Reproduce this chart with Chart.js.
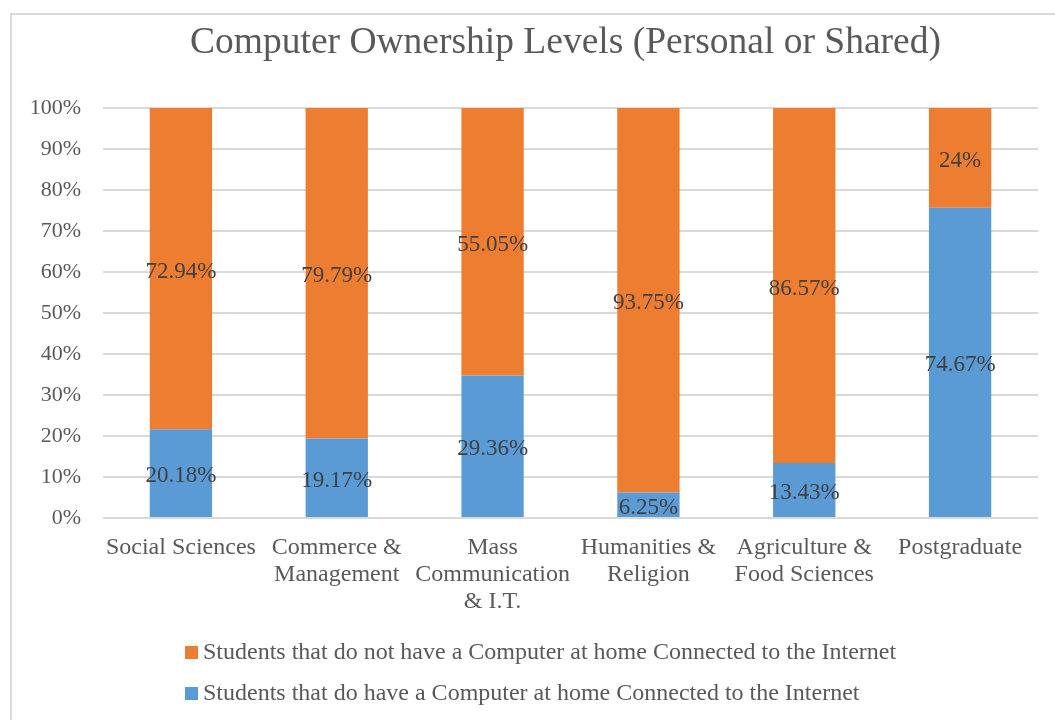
<!DOCTYPE html>
<html lang="en">
<head>
    <meta charset="UTF-8">
    <title>Computer Ownership Levels</title>
    <style>
        body { margin: 0; background: #fff; }
        canvas { display: block; }
    </style>
</head>
<body>
    <canvas id="myChart" width="1055" height="720"></canvas>

    <script src="https://cdn.jsdelivr.net/npm/chart.js@4.4.1/dist/chart.umd.min.js"></script>
    <script type="text/javascript">
        // categories (multi-line labels as in the original)
        const categories = [
            ['Social Sciences'],
            ['Commerce &', 'Management'],
            ['Mass', 'Communication', '& I.T.'],
            ['Humanities &', 'Religion'],
            ['Agriculture &', 'Food Sciences'],
            ['Postgraduate']
        ];
        const haveComputer = [20.18, 19.17, 29.36, 6.25, 13.43, 74.67];
        const noComputer = [72.94, 79.79, 55.05, 93.75, 86.57, 24];
        const seriesNames = [
            'Students that do have a Computer at home Connected to the Internet',
            'Students that do not have a Computer at home Connected to the Internet'
        ];
        const yTicks = [0, 10, 20, 30, 40, 50, 60, 70, 80, 90, 100];
        const chartTitle = 'Computer Ownership Levels (Personal or Shared)';

        const BLUE = '#5B9BD5';
        const ORANGE = '#ED7D31';
        const FONT = '"Liberation Serif", "Times New Roman", serif';

        // 100% stacked: share of each category total
        const totals = haveComputer.map((v, i) => v + noComputer[i]);
        const havePct = haveComputer.map((v, i) => v / totals[i] * 100);
        const noPct = noComputer.map((v, i) => v / totals[i] * 100);

        // labels in the middle of each segment, showing the raw value
        const segmentLabels = {
            id: 'segmentLabels',
            afterDatasetsDraw(chart) {
                const ctx = chart.ctx;
                ctx.save();
                ctx.font = '23px ' + FONT;
                ctx.fillStyle = '#404040';
                ctx.textAlign = 'center';
                ctx.textBaseline = 'middle';
                chart.data.datasets.forEach((ds, di) => {
                    chart.getDatasetMeta(di).data.forEach((bar, i) => {
                        ctx.fillText(ds.raw[i] + '%', bar.x, (bar.y + bar.base) / 2 + 3);
                    });
                });
                ctx.restore();
            }
        };

        // frame, title over the plot centre, legend (orange entry first, left aligned)
        const frameAndLegend = {
            id: 'frameAndLegend',
            afterDraw(chart) {
                const ctx = chart.ctx;
                const area = chart.chartArea;
                ctx.save();
                ctx.strokeStyle = '#d9d9d9';
                ctx.lineWidth = 2;
                ctx.strokeRect(11, 14, 2000, 2000);

                ctx.fillStyle = '#595959';
                ctx.font = '37.5px ' + FONT;
                ctx.textAlign = 'center';
                ctx.textBaseline = 'middle';
                ctx.fillText(chartTitle, (area.left + area.right) / 2 - 5, 43);

                const items = [
                    { text: seriesNames[1], color: ORANGE, y: 652 },
                    { text: seriesNames[0], color: BLUE, y: 693 }
                ];
                ctx.font = '24px ' + FONT;
                ctx.textAlign = 'left';
                items.forEach(it => {
                    ctx.fillStyle = it.color;
                    ctx.fillRect(185, it.y - 6, 13, 13);
                    ctx.fillStyle = '#595959';
                    ctx.fillText(it.text, 203, it.y + 1);
                });
                ctx.restore();
            }
        };

        const ctx = document.getElementById('myChart');
        const myChart = new Chart(ctx, {
            type: 'bar',
            data: {
                labels: categories,
                datasets: [
                    {
                        label: seriesNames[0],
                        data: havePct,
                        raw: haveComputer,
                        backgroundColor: BLUE,
                        barPercentage: 0.4,
                        categoryPercentage: 1
                    },
                    {
                        label: seriesNames[1],
                        data: noPct,
                        raw: noComputer,
                        backgroundColor: ORANGE,
                        barPercentage: 0.4,
                        categoryPercentage: 1
                    }
                ]
            },
            options: {
                responsive: false,
                animation: false,
                layout: { padding: { top: 108, left: 0, right: 17, bottom: 97 } },
                plugins: {
                    legend: { display: false },
                    tooltip: { enabled: false },
                    title: { display: false }
                },
                scales: {
                    x: {
                        stacked: true,
                        grid: { display: false },
                        border: { display: false },
                        ticks: {
                            color: '#595959',
                            font: { family: FONT, size: 24, lineHeight: 1.125 },
                            maxRotation: 0,
                            autoSkip: false,
                            padding: 8
                        }
                    },
                    y: {
                        stacked: true,
                        min: 0,
                        max: 100,
                        afterFit(scale) { scale.width = 103; },
                        afterBuildTicks(scale) { scale.ticks = yTicks.map(v => ({ value: v })); },
                        grid: { color: '#d9d9d9', lineWidth: 2, drawTicks: false },
                        border: { display: false },
                        ticks: {
                            color: '#595959',
                            font: { family: FONT, size: 22 },
                            padding: 22,
                            callback: v => v + '%'
                        }
                    }
                }
            },
            plugins: [segmentLabels, frameAndLegend]
        });
    </script>
</body>
</html>
